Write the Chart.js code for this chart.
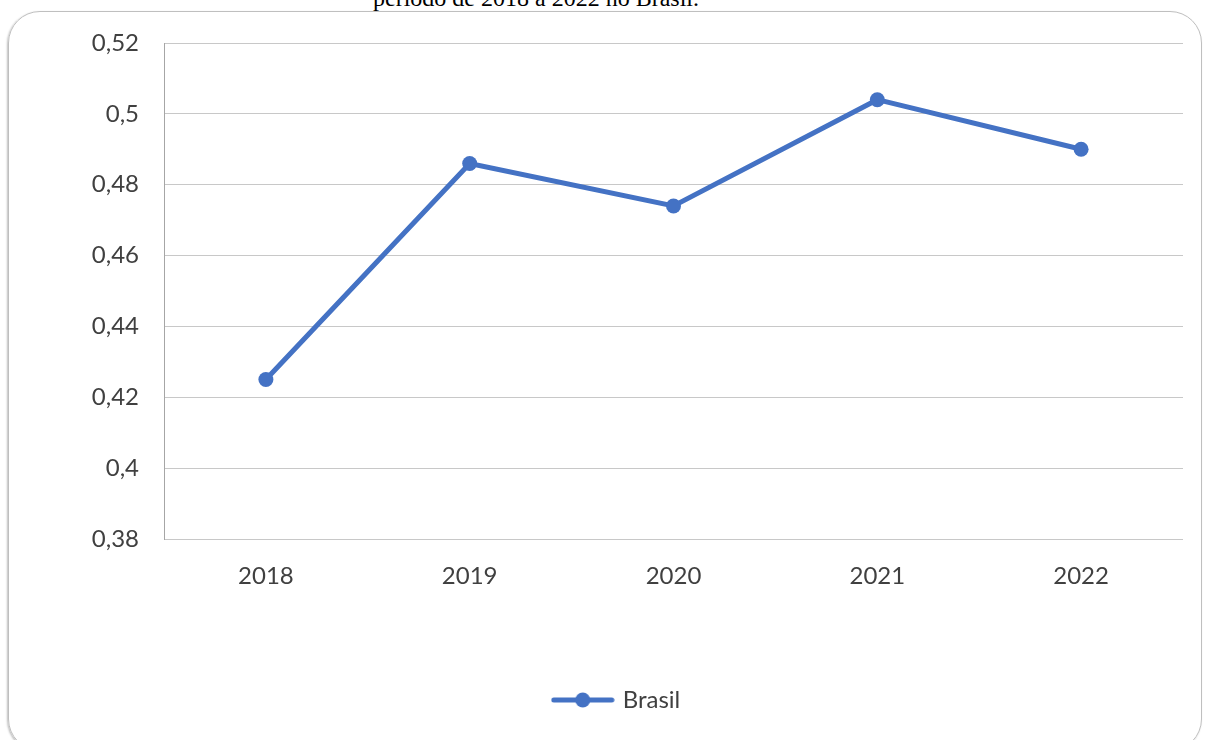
<!DOCTYPE html>
<html>
<head>
<meta charset="utf-8">
<script src="https://cdn.jsdelivr.net/npm/chart.js@4"></script>
<style>
    html, body { margin: 0; padding: 0; background: #fff; }
    #wrap { position: relative; width: 1206px; height: 740px; overflow: hidden; }
    #frame {
        position: absolute; left: 8px; top: 11px; width: 1194px; height: 740px;
        border: 1px solid #bfbfbf; border-radius: 32px; box-sizing: border-box;
        box-shadow: -1px 1px 2px rgba(0,0,0,0.25);
    }
    #caption {
        position: absolute; left: 0; width: 1072px; top: -15px; text-align: center;
        font-family: "Liberation Serif", "Times New Roman", serif; font-size: 24px; color: #000;
    }
    #chart { position: absolute; left: 0; top: 0; }
</style>
</head>
<body>
<div id="wrap">
    <div id="frame"></div>
    <div id="caption">período de 2018 a 2022 no Brasil.</div>
    <canvas id="chart" width="1206" height="740"></canvas>
</div>
<script>
// chart data
const years = ['2018', '2019', '2020', '2021', '2022'];
const brasilValues = [0.425, 0.486, 0.474, 0.504, 0.490];
const yTicks = [0.38, 0.40, 0.42, 0.44, 0.46, 0.48, 0.50, 0.52];

const lineColor = '#4472C4';

// legend marker: line with a dot in the middle
function makeLegendIcon() {
    const c = document.createElement('canvas');
    c.width = 64;
    c.height = 18;
    const g = c.getContext('2d');
    g.strokeStyle = lineColor;
    g.lineWidth = 5;
    g.lineCap = 'round';
    g.beginPath();
    g.moveTo(3, 9);
    g.lineTo(61, 9);
    g.stroke();
    g.fillStyle = lineColor;
    g.beginPath();
    g.arc(32, 9, 7.5, 0, Math.PI * 2);
    g.fill();
    return c;
}
const legendIcon = makeLegendIcon();

const fmt = v => String(Math.round(v * 100) / 100).replace('.', ',');

// nudge the legend a bit to the right, like the original
const legendShift = {
    id: 'legendShift',
    afterLayout(chart) {
        if (!chart.legend) return;
        chart.legend.left += 26;
        chart.legend.right += 26;
    }
};

const ctx = document.getElementById('chart').getContext('2d');
new Chart(ctx, {
    type: 'line',
    data: {
        labels: years,
        datasets: [{
            label: 'Brasil',
            data: brasilValues,
            borderColor: lineColor,
            backgroundColor: lineColor,
            borderWidth: 5,
            pointRadius: 7.5,
            pointHoverRadius: 7.5,
            pointBackgroundColor: lineColor,
            pointBorderWidth: 0,
            tension: 0,
            pointStyle: 'circle'
        }]
    },
    options: {
        responsive: false,
        animation: false,
        layout: { padding: { left: 0, top: 43, right: 23, bottom: 18 } },
        plugins: {
            tooltip: { enabled: false },
            legend: {
                position: 'bottom',
                labels: {
                    usePointStyle: true,
                    pointStyleWidth: 56,
                    color: '#404040',
                    font: { family: 'Lato', size: 24 },
                    padding: 10,
                    generateLabels: chart => [{
                        text: 'Brasil',
                        pointStyle: legendIcon,
                        fillStyle: lineColor,
                        strokeStyle: lineColor,
                        lineWidth: 0,
                        datasetIndex: 0,
                        fontColor: '#404040'
                    }]
                }
            }
        },
        scales: {
            x: {
                offset: true,
                grid: { display: false, drawTicks: false },
                border: { display: false },
                ticks: {
                    color: '#404040',
                    font: { family: 'Lato', size: 24 },
                    padding: 23
                },
                afterFit: s => { s.height = 139; }
            },
            y: {
                min: 0.38,
                max: 0.52,
                afterBuildTicks: s => { s.ticks = yTicks.map(v => ({ value: v })); },
                grid: { color: '#c8c8c8', lineWidth: 1, drawTicks: false },
                border: { display: true, color: '#a6a6a6', width: 1 },
                ticks: {
                    color: '#404040',
                    font: { family: 'Lato', size: 24 },
                    padding: 25,
                    callback: v => fmt(v)
                },
                afterFit: s => { s.width = 164; }
            }
        }
    },
    plugins: [legendShift]
});
</script>
</body>
</html>
